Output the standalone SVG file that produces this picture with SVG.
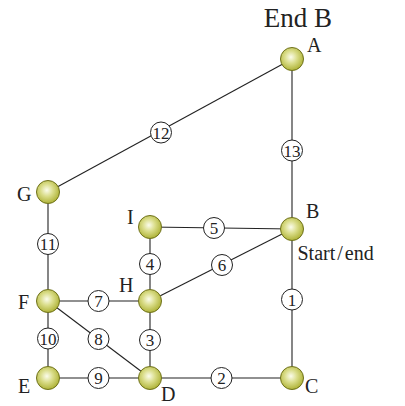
<svg xmlns="http://www.w3.org/2000/svg" width="405" height="406" viewBox="0 0 405 406">
<defs>
<radialGradient id="ng" cx="0.45" cy="0.42" r="0.6">
<stop offset="0" stop-color="#fbfcec"/>
<stop offset="0.45" stop-color="#dadd8a"/>
<stop offset="1" stop-color="#acb032"/>
</radialGradient>
<style>
.n{fill:url(#ng);stroke:#6f721c;stroke-width:1}
.e{stroke:#222;stroke-width:1.1;fill:none}
.w{fill:#fff;stroke:#222;stroke-width:1}
.t{font-family:"Liberation Serif","Times New Roman",serif;fill:#222}
.nl{font-size:20px}
.el{font-size:17px;text-anchor:middle}
</style>
</defs>
<rect width="405" height="406" fill="#fff"/>
<text class="t" x="298" y="27" font-size="27" text-anchor="middle">End B</text>
<g id="connectors">
<line class="e" x1="292" y1="59" x2="48" y2="192"/>
<line class="e" x1="292" y1="59" x2="292" y2="229"/>
<line class="e" x1="48" y1="192" x2="48" y2="301"/>
<line class="e" x1="150" y1="227" x2="292" y2="229"/>
<line class="e" x1="150" y1="227" x2="150" y2="301"/>
<line class="e" x1="150" y1="301" x2="292" y2="229"/>
<line class="e" x1="292" y1="229" x2="292" y2="378"/>
<line class="e" x1="48" y1="301" x2="150" y2="301"/>
<line class="e" x1="48" y1="301" x2="48" y2="378"/>
<line class="e" x1="48" y1="301" x2="150" y2="378"/>
<line class="e" x1="150" y1="301" x2="150" y2="378"/>
<line class="e" x1="48" y1="378" x2="150" y2="378"/>
<line class="e" x1="150" y1="378" x2="292" y2="378"/>
<g id="edge-labels">
<circle class="w" cx="161" cy="132.5" r="10.5"/><text class="t el" x="161" y="138.5">12</text>
<circle class="w" cx="292" cy="150.5" r="10.5"/><text class="t el" x="292" y="156.5">13</text>
<circle class="w" cx="48" cy="244" r="10.5"/><text class="t el" x="48" y="250">11</text>
<circle class="w" cx="214" cy="228" r="10.5"/><text class="t el" x="214" y="234">5</text>
<circle class="w" cx="150" cy="264" r="10.5"/><text class="t el" x="150" y="270">4</text>
<circle class="w" cx="222" cy="265" r="10.5"/><text class="t el" x="222" y="271">6</text>
<circle class="w" cx="292" cy="299.5" r="10.5"/><text class="t el" x="292" y="305.5">1</text>
<circle class="w" cx="98.5" cy="301" r="10.5"/><text class="t el" x="98.5" y="307">7</text>
<circle class="w" cx="48" cy="338.5" r="10.5"/><text class="t el" x="48" y="344.5">10</text>
<circle class="w" cx="98.5" cy="339" r="10.5"/><text class="t el" x="98.5" y="345">8</text>
<circle class="w" cx="150" cy="340" r="10.5"/><text class="t el" x="150" y="346">3</text>
<circle class="w" cx="98.5" cy="378" r="10.5"/><text class="t el" x="98.5" y="384">9</text>
<circle class="w" cx="221.5" cy="378" r="10.5"/><text class="t el" x="221.5" y="384">2</text>
</g>
</g>
<g id="node-A"><circle class="n" cx="292" cy="59" r="11.5"/><text class="t nl" x="307" y="52">A</text></g>
<g id="node-B"><circle class="n" cx="292" cy="229" r="11.5"/><text class="t nl" x="306" y="218">B</text><text class="t nl" x="297.5" y="259.5" font-size="21">Start<tspan dx="2">/</tspan><tspan dx="2">end</tspan></text></g>
<g id="node-C"><circle class="n" cx="292" cy="378" r="11.5"/><text class="t nl" x="305" y="393">C</text></g>
<g id="node-D"><circle class="n" cx="150" cy="378" r="11.5"/><text class="t nl" x="161" y="401">D</text></g>
<g id="node-E"><circle class="n" cx="48" cy="378" r="11.5"/><text class="t nl" x="18" y="393">E</text></g>
<g id="node-F"><circle class="n" cx="48" cy="301" r="11.5"/><text class="t nl" x="18" y="309">F</text></g>
<g id="node-G"><circle class="n" cx="48" cy="192" r="11.5"/><text class="t nl" x="17" y="201">G</text></g>
<g id="node-H"><circle class="n" cx="150" cy="301" r="11.5"/><text class="t nl" x="119" y="292">H</text></g>
<g id="node-I"><circle class="n" cx="150" cy="227" r="11.5"/><text class="t nl" x="127" y="224">I</text></g>
</svg>
